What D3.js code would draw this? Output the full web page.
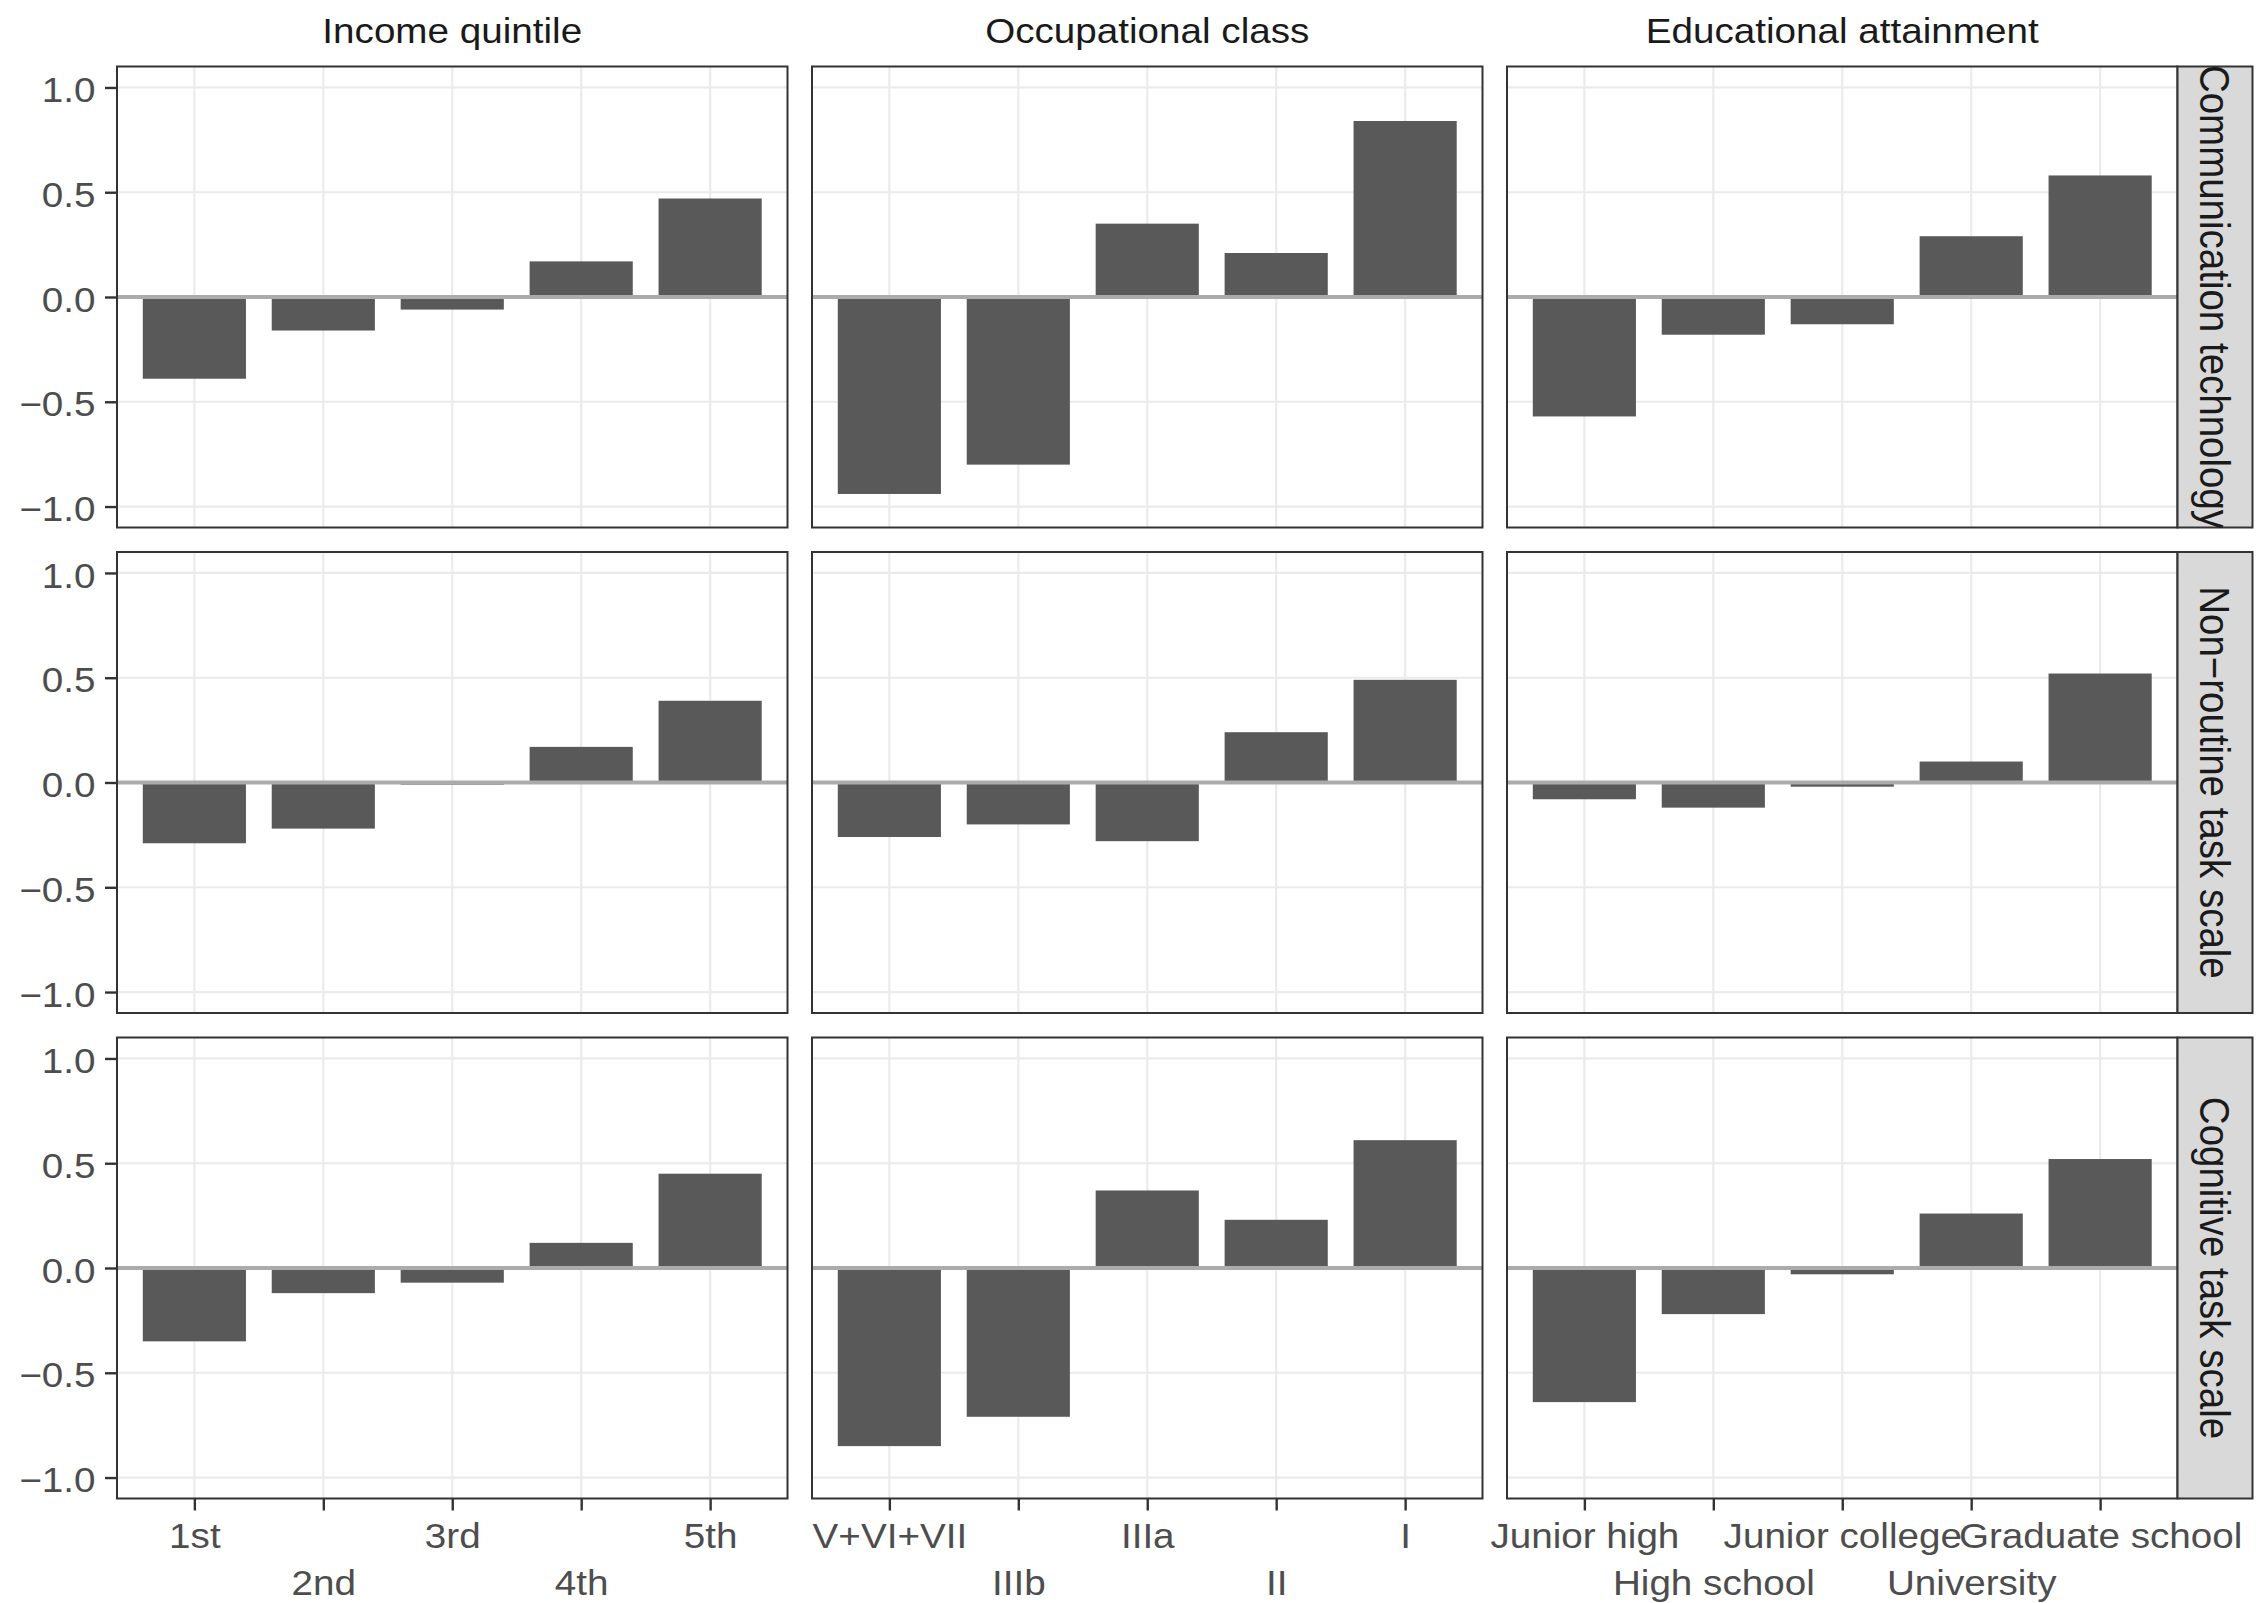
<!DOCTYPE html>
<html>
<head>
<meta charset="utf-8">
<style>
  body { margin: 0; background: #fff; }
  text { font-family: "Liberation Sans", Arial, Helvetica, sans-serif; }
</style>
</head>
<body>
<div id="chart"></div>
<script src="https://cdn.jsdelivr.net/npm/d3@7/dist/d3.min.js"></script>
<script>
// facet labels
const groups = ['Income quintile', 'Occupational class', 'Educational attainment'];
const outcomes = ['Communication technology', 'Non\u2212routine task scale', 'Cognitive task scale'];

// categories per column
const incomeCats = ['1st', '2nd', '3rd', '4th', '5th'];
const occCats = ['V+VI+VII', 'IIIb', 'IIIa', 'II', 'I'];
const eduCats = ['Junior high', 'High school', 'Junior college', 'University', 'Graduate school'];

// values, one array per panel
const commIncome = [-0.39, -0.16, -0.06, 0.17, 0.47];
const commOcc = [-0.94, -0.80, 0.35, 0.21, 0.84];
const commEdu = [-0.57, -0.18, -0.13, 0.29, 0.58];

const nonroutineIncome = [-0.29, -0.22, -0.01, 0.17, 0.39];
const nonroutineOcc = [-0.26, -0.20, -0.28, 0.24, 0.49];
const nonroutineEdu = [-0.08, -0.12, -0.02, 0.10, 0.52];

const cognitiveIncome = [-0.35, -0.12, -0.07, 0.12, 0.45];
const cognitiveOcc = [-0.85, -0.71, 0.37, 0.23, 0.61];
const cognitiveEdu = [-0.64, -0.22, -0.03, 0.26, 0.52];

const yTicks = [-1, -0.5, 0, 0.5, 1];

const categories = [incomeCats, occCats, eduCats];
const values = [
  [commIncome, commOcc, commEdu],
  [nonroutineIncome, nonroutineOcc, nonroutineEdu],
  [cognitiveIncome, cognitiveOcc, cognitiveEdu]
];

// layout
const width = 2266;
const height = 1603;
const panelLeft = 117;
const panelTop = 66.5;
const panelW = 670.5;
const panelH = 461;
const gap = 24.5;
const stripW = 75;
const sx = 1.12;          // text in the original is a little wide
const axisFont = 34.5;
const stripFont = 38.5;

const svg = d3.select('#chart')
  .append('svg')
  .attr('width', width)
  .attr('height', height);

const y = d3.scaleLinear().domain([-1.1, 1.1]).range([panelH, 0]);
const fmt = d3.format('.1f');

const defs = svg.append('defs');

groups.forEach((g, c) => {
  const x0 = panelLeft + c * (panelW + gap);
  const x = d3.scalePoint()
    .domain(categories[c])
    .range([0, panelW])
    .padding(0.6);
  const barW = x.step() * 0.8;

  // column strip
  svg.append('text')
    .attr('transform', `translate(${x0 + panelW / 2},42.5) scale(${sx},1)`)
    .attr('text-anchor', 'middle')
    .style('font-size', axisFont + 'px')
    .style('fill', '#1A1A1A')
    .text(g);

  outcomes.forEach((o, r) => {
    const y0 = panelTop + r * (panelH + gap);
    const panel = svg.append('g').attr('transform', `translate(${x0},${y0})`);

    panel.append('rect')
      .attr('width', panelW)
      .attr('height', panelH)
      .attr('fill', '#fff');

    panel.selectAll('.hgrid')
      .data(yTicks)
      .enter().append('line')
        .attr('x1', 0).attr('x2', panelW)
        .attr('y1', d => y(d)).attr('y2', d => y(d))
        .attr('stroke', '#EBEBEB')
        .attr('stroke-width', 2.2);

    panel.selectAll('.vgrid')
      .data(categories[c])
      .enter().append('line')
        .attr('x1', d => x(d)).attr('x2', d => x(d))
        .attr('y1', 0).attr('y2', panelH)
        .attr('stroke', '#EBEBEB')
        .attr('stroke-width', 2.2);

    const rows = categories[c].map((k, i) => ({ k: k, v: values[r][c][i] }));
    panel.selectAll('.bar')
      .data(rows)
      .enter().append('rect')
        .attr('x', d => x(d.k) - barW / 2)
        .attr('width', barW)
        .attr('y', d => y(Math.max(0, d.v)))
        .attr('height', d => Math.abs(y(d.v) - y(0)))
        .attr('fill', '#595959');

    panel.append('line')
      .attr('x1', 0).attr('x2', panelW)
      .attr('y1', y(0)).attr('y2', y(0))
      .attr('stroke', '#ABABAB')
      .attr('stroke-width', 4);

    panel.append('rect')
      .attr('width', panelW)
      .attr('height', panelH)
      .attr('fill', 'none')
      .attr('stroke', '#333333')
      .attr('stroke-width', 2);

    // y axis on the first column
    if (c === 0) {
      const ay = panel.append('g')
        .call(d3.axisLeft(y).tickValues(yTicks).tickSize(12).tickPadding(9.5).tickFormat(fmt));
      ay.select('.domain').remove();
      ay.selectAll('line').attr('stroke', '#333333').attr('stroke-width', 2.4);
      ay.selectAll('text')
        .attr('transform', `translate(-21.5,0) scale(${sx},1)`)
        .attr('x', 0)
        .attr('dy', '0.41em')
        .style('font-size', axisFont + 'px')
        .style('font-family', '"Liberation Sans", Arial, sans-serif')
        .attr('fill', '#4D4D4D');
    }

    // x axis on the last row, labels dodged over two lines
    if (r === outcomes.length - 1) {
      const ax = panel.append('g')
        .attr('transform', `translate(0,${panelH})`)
        .call(d3.axisBottom(x).tickSize(12));
      ax.select('.domain').remove();
      ax.selectAll('line').attr('stroke', '#333333').attr('stroke-width', 2.4);
      ax.selectAll('text')
        .attr('transform', (d, i) => `translate(0,${i % 2 === 0 ? 49 : 96}) scale(${sx},1)`)
        .attr('y', 0)
        .attr('dy', 0)
        .style('font-size', axisFont + 'px')
        .style('font-family', '"Liberation Sans", Arial, sans-serif')
        .attr('fill', '#4D4D4D');
    }

    // row strip on the last column
    if (c === groups.length - 1) {
      const sx0 = x0 + panelW;
      defs.append('clipPath')
        .attr('id', 'strip' + r)
        .append('rect')
          .attr('x', sx0).attr('y', y0)
          .attr('width', stripW).attr('height', panelH);

      svg.append('rect')
        .attr('x', sx0).attr('y', y0)
        .attr('width', stripW).attr('height', panelH)
        .attr('fill', '#D9D9D9')
        .attr('stroke', '#333333')
        .attr('stroke-width', 2);

      svg.append('g')
        .attr('clip-path', `url(#strip${r})`)
        .append('text')
          .attr('transform', `translate(${sx0 + stripW / 2},${y0 + panelH / 2}) scale(${sx},1) rotate(90)`)
          .attr('text-anchor', 'middle')
          .attr('dy', '0.35em')
          .style('font-size', stripFont + 'px')
          .style('fill', '#1A1A1A')
          .text(o);
    }
  });
});
</script>
</body>
</html>
